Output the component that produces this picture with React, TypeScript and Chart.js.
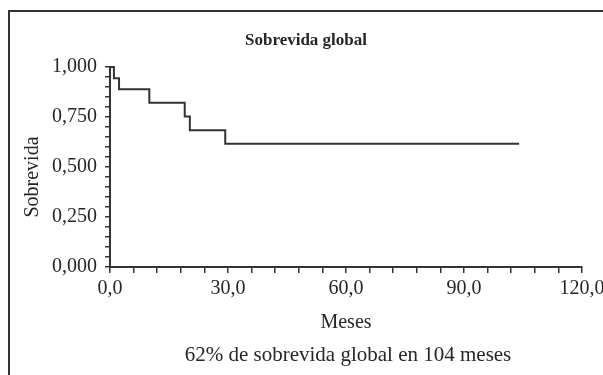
import React, { useEffect, useRef } from "react";
import { Chart, registerables } from "chart.js";

Chart.register(...registerables);

// Kaplan-Meier estimate: event times (months) and survival probabilities
const months = [0, 1, 2.3, 10, 19, 20.3, 29.3, 104];
const survival = [1.0, 0.944, 0.889, 0.821, 0.752, 0.684, 0.616, 0.616];

const xTickLabels = ["0,0", "30,0", "60,0", "90,0", "120,0"];
const yTickLabels = ["0,000", "0,250", "0,500", "0,750", "1,000"];

const chartTitle = "Sobrevida global";
const xTitle = "Meses";
const yTitle = "Sobrevida";
const footerText = "62% de sobrevida global en 104 meses";

const FONT = "'Liberation Serif', 'Times New Roman', serif";
const INK = "#262626";

const decorPlugin = {
  id: "decor",
  beforeDraw(chart: any) {
    const ctx = chart.ctx;
    ctx.save();
    ctx.fillStyle = "#ffffff";
    ctx.fillRect(0, 0, chart.width, chart.height);
    ctx.restore();
  },
  afterDraw(chart: any) {
    const ctx = chart.ctx;
    const area = chart.chartArea;
    ctx.save();
    ctx.strokeStyle = "#333333";
    ctx.lineWidth = 2;
    ctx.strokeRect(9, 11, 720, 520);
    ctx.fillStyle = INK;
    ctx.textAlign = "center";
    ctx.textBaseline = "middle";
    ctx.font = `bold 17px ${FONT}`;
    ctx.fillText(chartTitle, 306, 41);
    ctx.font = `21px ${FONT}`;
    ctx.fillText(footerText, (area.left + area.right) / 2 + 2, 355);
    // vertical axis title
    ctx.font = `20px ${FONT}`;
    ctx.translate(33, (area.top + area.bottom) / 2 + 10);
    ctx.rotate(-Math.PI / 2);
    ctx.fillText(yTitle, 0, 0);
    ctx.restore();
  },
};

export default function App() {
  const ref = useRef<HTMLCanvasElement | null>(null);

  useEffect(() => {
    if (!ref.current) return;
    const chart = new Chart(ref.current, {
      type: "line",
      data: {
        datasets: [
          {
            data: months.map((m, i) => ({ x: m, y: survival[i] })),
            stepped: true,
            borderColor: "#333333",
            borderWidth: 2,
            pointRadius: 0,
            fill: false,
            clip: false as any,
          },
        ],
      },
      options: {
        responsive: false,
        animation: false,
        events: [],
        layout: { padding: { left: 9, right: 58, top: 67, bottom: 65 } },
        plugins: {
          legend: { display: false },
          tooltip: { enabled: false },
          title: { display: false },
        },
        scales: {
          x: {
            type: "linear",
            min: 0,
            max: 120,
            afterFit: (s: any) => {
              s.height = 68;
            },
            border: { display: true, color: "#333333", width: 2 },
            grid: {
              drawOnChartArea: false,
              drawTicks: true,
              tickLength: 6,
              color: "#333333",
              lineWidth: 1.5,
            },
            ticks: {
              stepSize: 6,
              autoSkip: false,
              maxRotation: 0,
              padding: 4,
              color: INK,
              font: { family: FONT, size: 20 },
              callback: (v: any) => {
                const n = Math.round(Number(v));
                return n % 30 === 0 ? xTickLabels[n / 30] : "";
              },
            },
            title: {
              display: true,
              text: xTitle,
              color: INK,
              font: { family: FONT, size: 20 },
              padding: { top: 0, bottom: 0 },
            },
          },
          y: {
            type: "linear",
            min: 0,
            max: 1,
            afterFit: (s: any) => {
              s.width = 101;
            },
            border: { display: true, color: "#333333", width: 2 },
            grid: {
              drawOnChartArea: false,
              drawTicks: true,
              tickLength: 5,
              color: "#333333",
              lineWidth: 1.5,
            },
            ticks: {
              stepSize: 0.05,
              autoSkip: false,
              padding: 8,
              color: INK,
              font: { family: FONT, size: 20 },
              callback: (v: any) => {
                const n = Math.round(Number(v) * 100);
                return n % 25 === 0 ? yTickLabels[n / 25] : "";
              },
            },
            title: { display: false },
          },
        },
      },
      plugins: [decorPlugin],
    });
    return () => chart.destroy();
  }, []);

  return (
    <div
      style={{
        position: "fixed",
        left: 0,
        top: 0,
        width: 603,
        height: 375,
        overflow: "hidden",
        background: "#fff",
      }}
    >
      <canvas ref={ref} width={640} height={400} style={{ width: 640, height: 400, display: "block" }} />
    </div>
  );
}
